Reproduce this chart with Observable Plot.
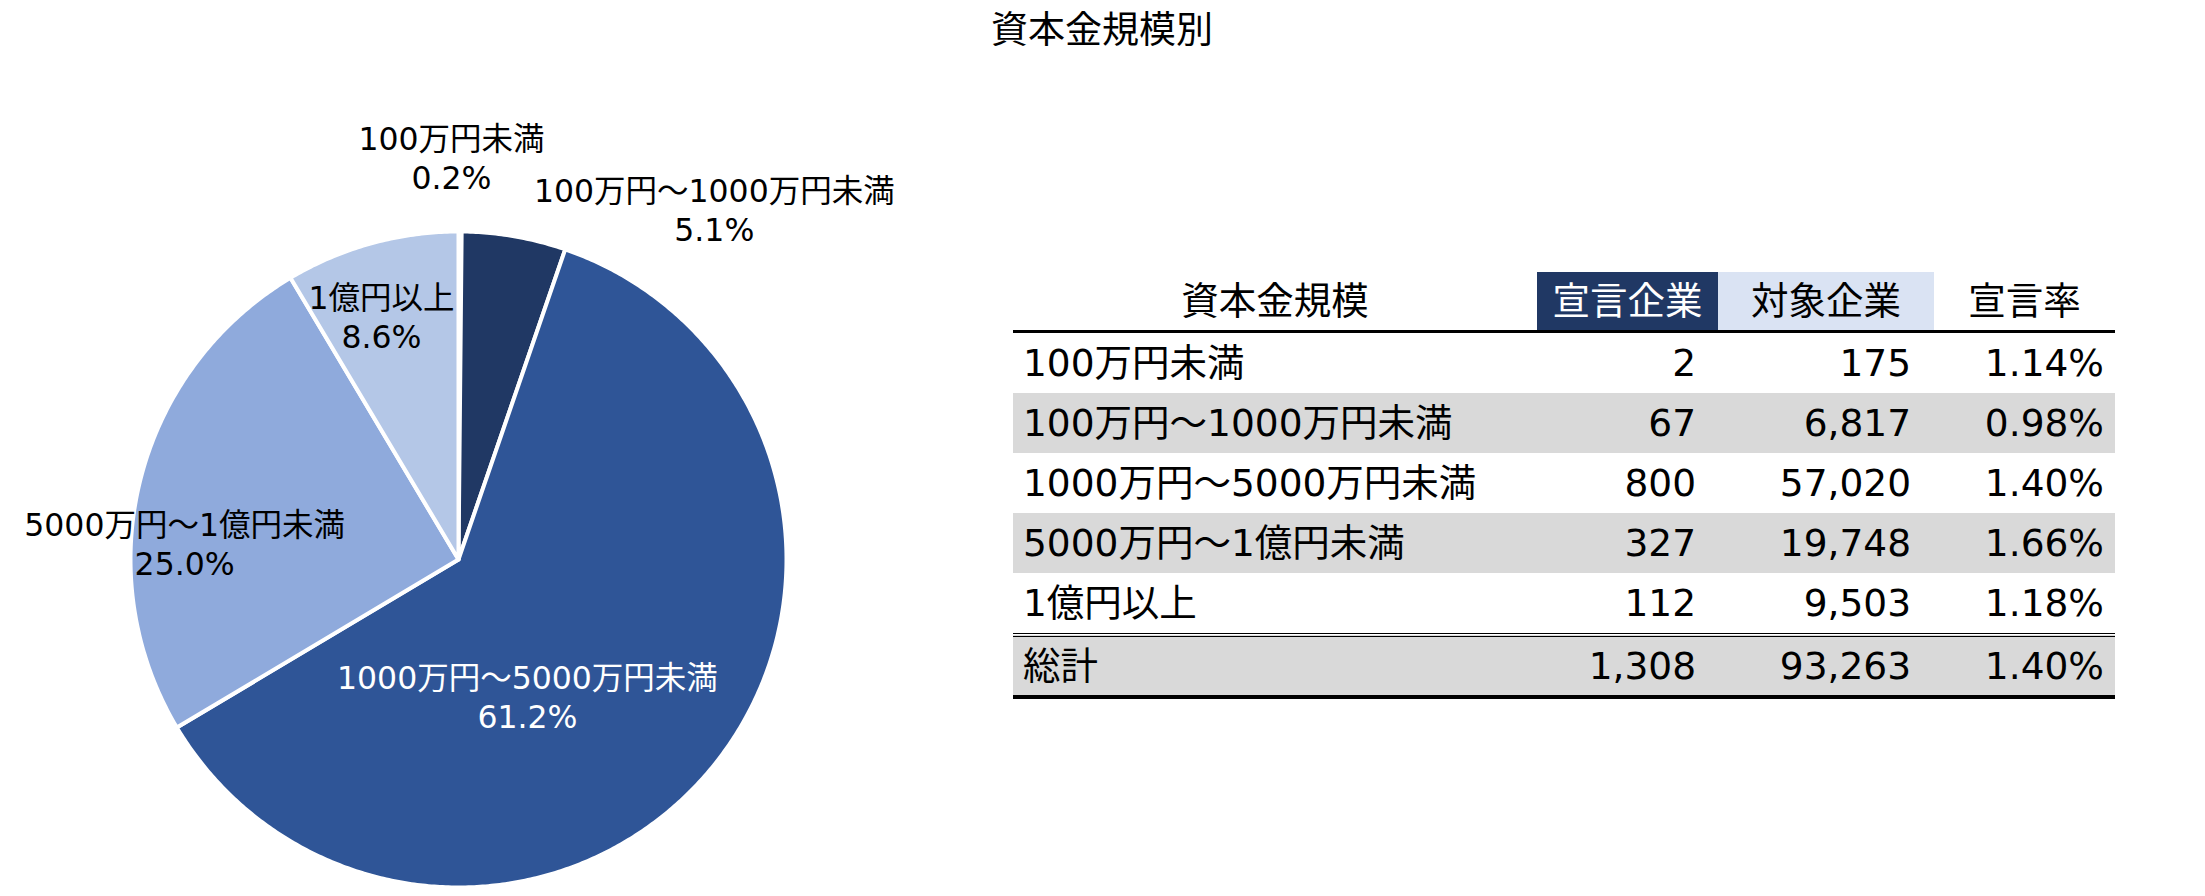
<!DOCTYPE html>
<html>
<head>
<meta charset="utf-8">
<script src="https://cdn.jsdelivr.net/npm/d3@7"></script>
<script src="https://cdn.jsdelivr.net/npm/@observablehq/plot@0.6"></script>
<style>
  html, body { margin: 0; padding: 0; background: #fff; }
  #wrap { position: relative; width: 2205px; height: 896px; overflow: hidden; background: #fff;
          font-family: "DejaVu Sans", "Noto Sans CJK JP", sans-serif; color: #000; }
  #title { position: absolute; left: 1102px; top: 0px; transform: translateX(-50%); white-space: nowrap;
           font-family: "Noto Sans CJK JP", sans-serif; font-size: 37px; line-height: normal; color: #000; }
  #pie { position: absolute; left: 0; top: 60px; }
  #tbl { position: absolute; left: 1013px; top: 272px; border-collapse: collapse; table-layout: fixed;
         font-size: 37.5px; font-family: "DejaVu Sans", "Noto Sans CJK JP", sans-serif; }
  #tbl td, #tbl th { padding: 0; white-space: nowrap; font-weight: normal; }
  #tbl th { height: 58px; line-height: 58px; text-align: center; border-bottom: 3px solid #000; }
  #tbl td { height: 60px; line-height: 60px; }
  #tbl td.num { text-align: right; }
  #tbl td.name { text-align: left; padding-left: 10px; }
  #tbl tr.alt td { background: #d9d9d9; }
  #tbl tr.total td { background: #d9d9d9; border-top: 4px double #000; border-bottom: 4px solid #000; height: 58px; line-height: 58px; }
</style>
</head>
<body>
<div id="wrap">
  <div id="pie"></div>
  <div id="title"></div>
  <table id="tbl"></table>
</div>
<script>
// ---------------- data ----------------
const chartTitle = "資本金規模別";
const categories = ["100万円未満", "100万円～1000万円未満", "1000万円～5000万円未満", "5000万円～1億円未満", "1億円以上"];
const declared = [2, 67, 800, 327, 112];          // 宣言企業
const targets = [175, 6817, 57020, 19748, 9503];  // 対象企業
const headers = ["資本金規模", "宣言企業", "対象企業", "宣言率"];
const totalLabel = "総計";

// ---------------- style / layout ----------------
const sliceColors = ["#203864", "#203864", "#2f5597", "#8faadc", "#b4c7e7"];
const labelColors = ["#000", "#000", "#fff", "#000", "#000"];
// label placement: [angle offset from slice middle (deg), radius factor]
const labelPlace = [[-1.27, 1.227], [26.35, 1.323], [24.1, 0.466], [-10.74, 0.8365], [-2.16, 0.778]];
const pieTop = 60;                       // svg offset within the page
const pieCx = 458, pieCy = 559 - pieTop, pieR = 328;
const colWidths = [524, 181, 216, 181];
const numPad = [0, 22, 23, 11];
const headBg = [null, "#203864", "#dae3f3", null];
const headFg = ["#000", "#fff", "#000", "#000"];

// ---------------- title ----------------
document.getElementById("title").textContent = chartTitle;

// ---------------- pie ----------------
const total = d3.sum(declared);
const arcs = d3.pie().sort(null).value(d => d)(declared);
const slicePts = [];
arcs.forEach((a, i) => {
  const n = Math.max(2, Math.ceil((a.endAngle - a.startAngle) / (Math.PI / 360)));
  slicePts.push({name: categories[i], x: 0, y: 0});
  for (let k = 0; k <= n; k++) {
    const t = a.startAngle + (a.endAngle - a.startAngle) * k / n;
    slicePts.push({name: categories[i], x: Math.sin(t), y: Math.cos(t)});
  }
  slicePts.push({name: categories[i], x: 0, y: 0});
});
const labels = arcs.map((a, i) => {
  const mid = (a.startAngle + a.endAngle) / 2 + labelPlace[i][0] * Math.PI / 180;
  const k = labelPlace[i][1];
  return {
    x: k * Math.sin(mid), y: k * Math.cos(mid),
    text: categories[i] + "\n" + (declared[i] / total * 100).toFixed(1) + "%",
    color: labelColors[i]
  };
});

const pie = Plot.plot({
  width: 960, height: 836, margin: 0,
  x: {domain: [-1, 1], range: [pieCx - pieR, pieCx + pieR], axis: null},
  y: {domain: [-1, 1], range: [pieCy + pieR, pieCy - pieR], axis: null},
  color: {domain: categories, range: sliceColors},
  style: {fontFamily: '"DejaVu Sans", "Noto Sans CJK JP", sans-serif', background: "transparent", overflow: "visible"},
  marks: [
    Plot.line(slicePts, {x: "x", y: "y", z: "name", fill: "name", stroke: "#fff", strokeWidth: 4, strokeLinejoin: "round"}),
    Plot.text(labels.filter(d => d.color === "#000"), {x: "x", y: "y", text: "text", fill: "#000", fontSize: 31.5, lineHeight: 1.24}),
    Plot.text(labels.filter(d => d.color !== "#000"), {x: "x", y: "y", text: "text", fill: "#fff", fontSize: 31.5, lineHeight: 1.24})
  ]
});
document.getElementById("pie").appendChild(pie);

// ---------------- table ----------------
const fmt = d3.format(",");
const pct = (a, b) => (a / b * 100).toFixed(2) + "%";
const tbl = d3.select("#tbl");
const cg = tbl.append("colgroup");
colWidths.forEach(w => cg.append("col").style("width", w + "px"));
const hr = tbl.append("tr");
headers.forEach((h, j) => {
  const th = hr.append("th").text(h).style("color", headFg[j]);
  if (headBg[j]) th.style("background", headBg[j]);
});
const rows = categories.map((c, i) => [c, fmt(declared[i]), fmt(targets[i]), pct(declared[i], targets[i])]);
rows.forEach((r, i) => {
  const tr = tbl.append("tr").attr("class", i % 2 === 1 ? "alt" : null);
  r.forEach((v, j) => {
    const td = tr.append("td").text(v).attr("class", j === 0 ? "name" : "num");
    if (j > 0) td.style("padding-right", numPad[j] + "px");
  });
});
const sumT = d3.sum(targets);
const tr = tbl.append("tr").attr("class", "total");
[totalLabel, fmt(total), fmt(sumT), pct(total, sumT)].forEach((v, j) => {
  const td = tr.append("td").text(v).attr("class", j === 0 ? "name" : "num");
  if (j > 0) td.style("padding-right", numPad[j] + "px");
});
</script>
</body>
</html>
